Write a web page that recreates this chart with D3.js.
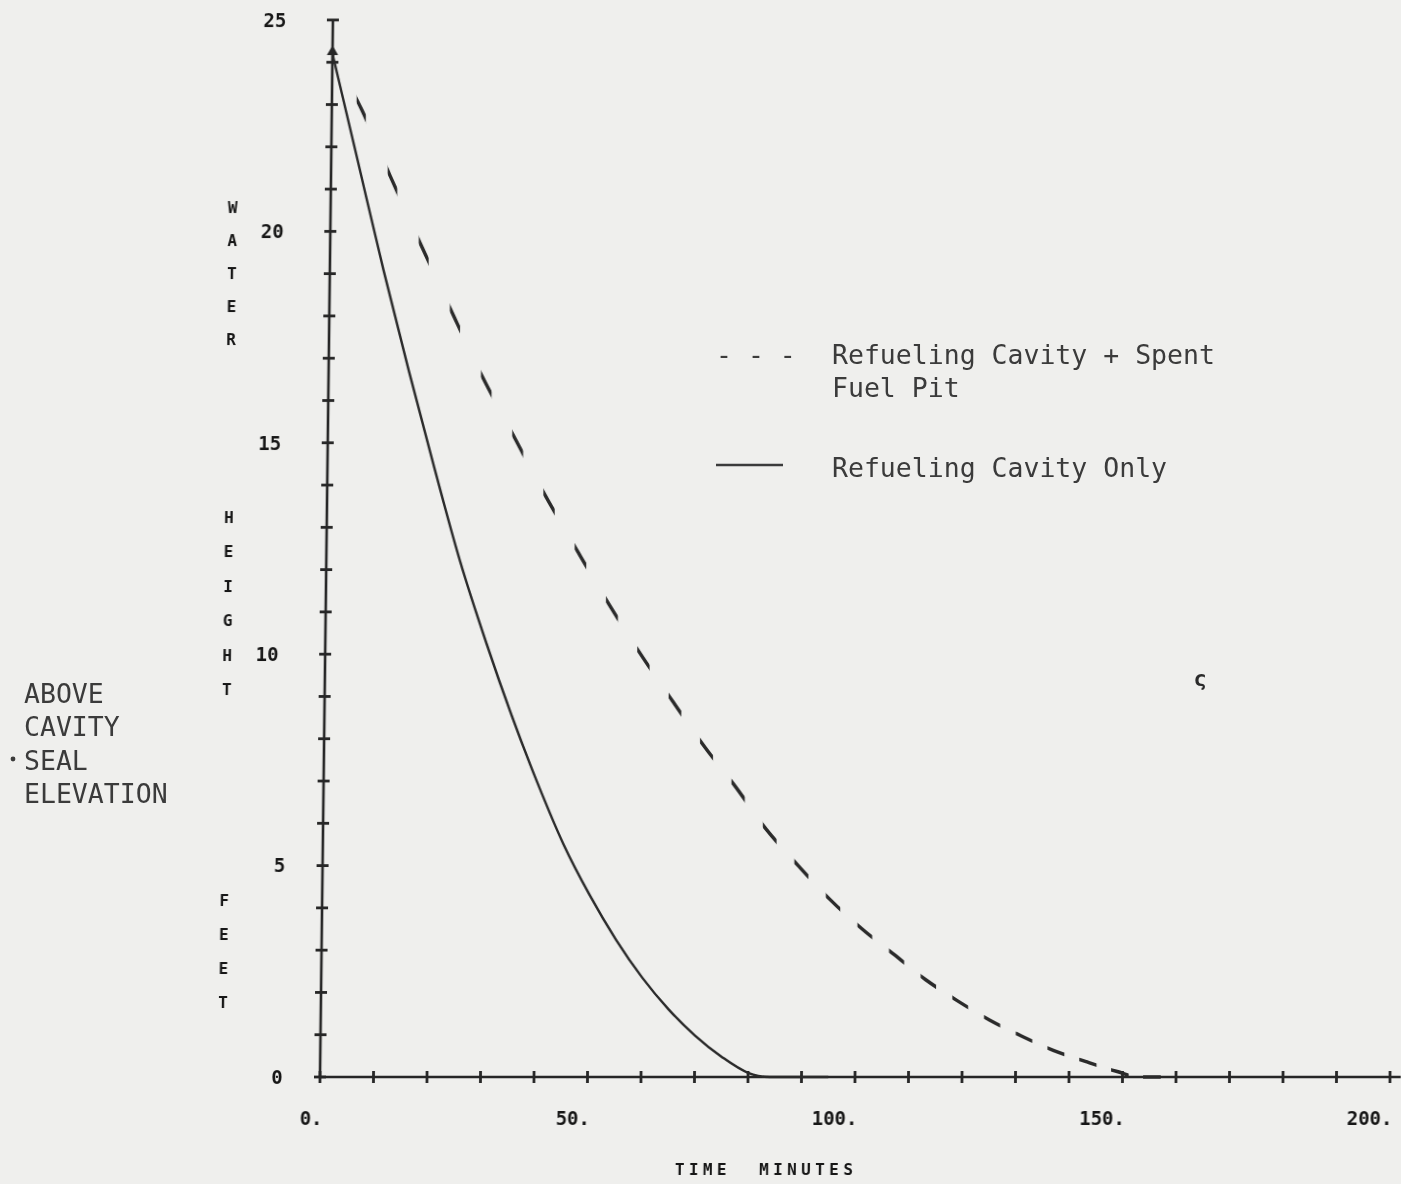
<!DOCTYPE html>
<html>
<head>
<meta charset="utf-8">
<script src="https://cdn.jsdelivr.net/npm/d3@7"></script>
<style>
  body { margin: 0; background: #efefed; }
</style>
</head>
<body>
<script>
var width = 1401;
var height = 1184;

// refueling cavity only (solid line), minutes / feet
var cavityTime   = [0, 5, 10, 15, 20, 25, 30, 35, 40, 45, 50, 55, 60, 65, 70, 75, 80, 84, 95];
var cavityHeight = [24.2, 21.65, 19.1, 16.7, 14.4, 12.2, 10.3, 8.55, 6.95, 5.5, 4.3, 3.25, 2.35, 1.6, 0.98, 0.48, 0.1, 0, 0];

// refueling cavity + spent fuel pit (dashed line)
var poolTime   = [0, 5.7, 11.1, 16.9, 22.5, 28.6, 35, 40.8, 47.1, 53.1, 59.5, 65, 71.2, 77.1, 82.9, 88.9, 94.9, 101, 107, 113, 119, 125, 131, 137, 143, 149, 153, 160];
var poolHeight = [24.2, 22.85, 21.3, 19.7, 18.2, 16.6, 15.1, 13.75, 12.4, 11.15, 9.9, 8.9, 7.8, 6.85, 5.85, 5.0, 4.2, 3.5, 2.9, 2.3, 1.8, 1.35, 0.97, 0.63, 0.37, 0.13, 0, 0];

var xTicks  = d3.range(0, 201, 10);
var xLabels = [0, 50, 100, 150, 200];
var yTicks  = d3.range(0, 26, 1);
var yLabels = [0, 5, 10, 15, 20, 25];

var legendLines = ["Refueling Cavity + Spent", "Fuel Pit"];
var legendSolid = "Refueling Cavity Only";
var sideNote = ["ABOVE", "CAVITY", "SEAL", "ELEVATION"];

var ink = "#262626";
var plotFont = "'DejaVu Sans Mono', monospace";

var svg = d3.select("body")
            .append("svg")
            .attr("width", width)
            .attr("height", height);

svg.append("rect")
   .attr("width", width)
   .attr("height", height)
   .attr("fill", "#efefed");

var defs = svg.append("defs");
defs.append("filter")
    .attr("id", "scan")
    .attr("x", "-5%").attr("y", "-5%").attr("width", "110%").attr("height", "110%")
    .append("feGaussianBlur")
    .attr("stdDeviation", 0.6);

var x = d3.scaleLinear().domain([0, 200]).range([0, 1070]);
var y = d3.scaleLinear().domain([0, 25]).range([0, -1057]);

// the scanned plot leans a little, so the whole frame is skewed
var plot = svg.append("g")
              .attr("transform", "translate(320,1077) skewX(-0.7)")
              .attr("filter", "url(#scan)");

// axes
plot.append("line")
    .attr("x1", x(0)).attr("y1", 0)
    .attr("x2", x(202)).attr("y2", 0)
    .attr("stroke", ink).attr("stroke-width", 2.6);
plot.append("line")
    .attr("x1", 0).attr("y1", y(0))
    .attr("x2", 0).attr("y2", y(25))
    .attr("stroke", ink).attr("stroke-width", 2.6);

plot.selectAll("line.xtick")
    .data(xTicks)
    .enter().append("line")
    .attr("class", "xtick")
    .attr("x1", function(d) { return x(d); })
    .attr("x2", function(d) { return x(d); })
    .attr("y1", -6).attr("y2", 6)
    .attr("stroke", ink).attr("stroke-width", 2.8);

plot.selectAll("line.ytick")
    .data(yTicks)
    .enter().append("line")
    .attr("class", "ytick")
    .attr("x1", -6).attr("x2", 6)
    .attr("y1", function(d) { return y(d); })
    .attr("y2", function(d) { return y(d); })
    .attr("stroke", ink).attr("stroke-width", 2.8);

plot.selectAll("text.xlab")
    .data(xLabels)
    .enter().append("text")
    .attr("class", "xlab")
    .attr("x", function(d) { return x(d) + 3; })
    .attr("y", 48)
    .attr("text-anchor", "end")
    .style("font", "bold 19px " + plotFont)
    .attr("fill", "#151515")
    .text(function(d) { return d + "."; });

plot.selectAll("text.ylab")
    .data(yLabels)
    .enter().append("text")
    .attr("class", "ylab")
    .attr("x", function(d) { return d >= 10 ? -58 : -43; })
    .attr("y", function(d) { return y(d); })
    .attr("dy", "0.36em")
    .attr("text-anchor", "middle")
    .style("font", "bold 19px " + plotFont)
    .attr("fill", "#151515")
    .text(function(d) { return d; });

// x title
plot.append("text")
    .attr("x", 356)
    .attr("y", 98)
    .style("font", "bold 16px " + plotFont)
    .style("letter-spacing", "4.4px")
    .style("white-space", "pre")
    .attr("fill", "#151515")
    .text("TIME  MINUTES");

// y title, stacked letters
var yTitle = [
  {word: "WATER",  top: 207, step: 33},
  {word: "HEIGHT", top: 517, step: 34.5},
  {word: "FEET",   top: 900, step: 34}
];
yTitle.forEach(function(w) {
  w.word.split("").forEach(function(ch, i) {
    plot.append("text")
        .attr("x", -98)
        .attr("y", w.top + i * w.step - 1077)
        .attr("dy", "0.36em")
        .attr("text-anchor", "middle")
        .style("font", "bold 16px " + plotFont)
        .attr("fill", "#151515")
        .text(ch);
  });
});

// curves
var line = d3.line()
             .x(function(d) { return x(d[0]); })
             .y(function(d) { return y(d[1]); })
             .curve(d3.curveMonotoneX);

var cavity = d3.zip(cavityTime, cavityHeight);
var pool = d3.zip(poolTime, poolHeight);

// plotter dashes: one pen-down stroke every 6 minutes, a bit longer as the curve flattens
function dashOn(k) {
  return 1.7 + 1.6 * Math.min(k, 25) / 25;
}

var clip = defs.append("clipPath").attr("id", "dashes");
clip.selectAll("rect")
    .data(d3.range(0, 28))
    .enter().append("rect")
    .attr("x", function(k) { return x(6 * k - 0.5 - dashOn(k) / 2); })
    .attr("width", function(k) { return x(dashOn(k)) - x(0); })
    .attr("y", y(26))
    .attr("height", y(0) - y(26) + 12);

plot.append("path")
    .datum(pool)
    .attr("d", line)
    .attr("fill", "none")
    .attr("stroke", "#2a2a2a")
    .attr("stroke-width", 3.4)
    .attr("clip-path", "url(#dashes)");

plot.append("path")
    .datum(cavity)
    .attr("d", line)
    .attr("fill", "none")
    .attr("stroke", "#2a2a2a")
    .attr("stroke-width", 2.4);

plot.append("path")
    .attr("d", d3.symbol(d3.symbolTriangle).size(55))
    .attr("transform", "translate(" + x(cavityTime[0]) + "," + (y(cavityHeight[0]) - 2) + ")")
    .attr("fill", ink);

// legend (typewriter text)
var typeFont = "26.5px 'DejaVu Sans Mono', monospace";
var legend = svg.append("g").attr("filter", "url(#scan)");

legend.append("text")
      .attr("x", 716).attr("y", 364)
      .style("font", typeFont)
      .style("white-space", "pre")
      .attr("fill", "#3a3a3a")
      .text("- - -");

legend.selectAll("text.leg")
      .data(legendLines)
      .enter().append("text")
      .attr("class", "leg")
      .attr("x", 832)
      .attr("y", function(d, i) { return 364 + i * 33; })
      .style("font", typeFont)
      .attr("fill", "#3a3a3a")
      .text(function(d) { return d; });

legend.append("line")
      .attr("x1", 716).attr("x2", 783)
      .attr("y1", 465).attr("y2", 465)
      .attr("stroke", "#3a3a3a").attr("stroke-width", 2.4);

legend.append("text")
      .attr("x", 832).attr("y", 477)
      .style("font", typeFont)
      .attr("fill", "#3a3a3a")
      .text(legendSolid);

// side note left of the axis
legend.selectAll("text.note")
      .data(sideNote)
      .enter().append("text")
      .attr("class", "note")
      .attr("x", 24)
      .attr("y", function(d, i) { return 703 + i * 33.3; })
      .style("font", typeFont)
      .attr("fill", "#3a3a3a")
      .text(function(d) { return d; });

legend.append("circle")
      .attr("cx", 13).attr("cy", 759)
      .attr("r", 2.4)
      .attr("fill", "#3a3a3a");

legend.append("text")
      .attr("x", 1200).attr("y", 686)
      .attr("text-anchor", "middle")
      .style("font", "bold 22px " + plotFont)
      .attr("fill", "#2a2a2a")
      .text("ς");
</script>
</body>
</html>
